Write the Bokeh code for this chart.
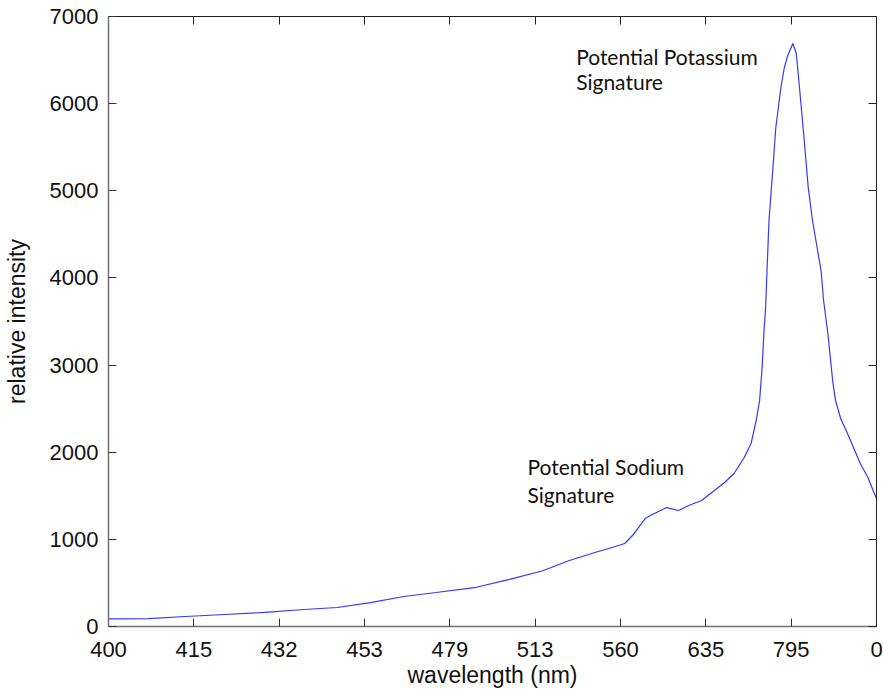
from bokeh.plotting import figure
from bokeh.models import LinearAxis, FixedTicker, Label, Range1d
from bokeh.embed import file_html
from bokeh.resources import INLINE

# sample index along the spectrometer (tick positions every 100 samples)
sample_idx = [0, 47, 90, 136, 183, 229, 268, 307, 346, 384, 431, 470, 509, 540,
              570, 590, 605, 614, 629, 635, 654, 668, 680, 695, 707, 722, 733,
              745, 753, 759, 763, 766, 768, 770, 774, 779, 782, 788, 792, 796,
              802, 806, 809, 815, 820, 825, 831, 835, 838, 843, 849, 852, 858,
              866, 873, 881, 890, 897, 900]
intensity = [88, 90, 115, 138, 161, 195, 218, 275, 344, 390, 450, 540, 640, 757,
             849, 907, 952, 1044, 1239, 1273, 1365, 1331, 1388, 1446, 1538, 1653,
             1756, 1939, 2100, 2364, 2593, 2972, 3362, 3650, 4659, 5313, 5726,
             6185, 6415, 6553, 6690, 6575, 6266, 5611, 5038, 4659, 4315, 4085,
             3741, 3362, 2789, 2593, 2387, 2215, 2054, 1870, 1710, 1538, 1469]

x_ticks = [0, 100, 200, 300, 400, 500, 600, 700, 800, 900]
x_tick_labels = ["400", "415", "432", "453", "479", "513", "560", "635", "795", "0"]
y_ticks = [0, 1000, 2000, 3000, 4000, 5000, 6000, 7000]

FONT = "Liberation Sans"

p = figure(width=883, height=692, output_backend="svg", toolbar_location=None,
           x_range=Range1d(0, 900), y_range=Range1d(0, 7000),
           min_border_left=103, min_border_right=7, min_border_top=16,
           min_border_bottom=66, x_axis_label="wavelength (nm)",
           y_axis_label="relative intensity")
p.grid.visible = False
p.outline_line_color = None
p.background_fill_color = "white"

p.line(sample_idx, intensity, line_color="#3636ff", line_width=1.2)

xa = p.xaxis[0]
xa.ticker = FixedTicker(ticks=x_ticks)
xa.major_label_overrides = {t: l for t, l in zip(x_ticks, x_tick_labels)}
ya = p.yaxis[0]
ya.ticker = FixedTicker(ticks=y_ticks)

for ax in (xa, ya):
    ax.major_tick_in = 8
    ax.major_tick_out = 0
    ax.minor_tick_in = 0
    ax.minor_tick_out = 0
    ax.axis_line_color = "#707070"
    ax.axis_line_width = 1.5
    ax.major_tick_line_color = "#333333"
    ax.major_label_text_font = FONT
    ax.major_label_text_font_size = "22px"
    ax.major_label_text_color = "#111111"
    ax.axis_label_text_font = FONT
    ax.axis_label_text_font_size = "23px"
    ax.axis_label_text_font_style = "normal"
    ax.axis_label_text_color = "#111111"

xa.major_label_standoff = 15
xa.axis_label_standoff = 2
ya.major_label_standoff = 10
ya.axis_label_standoff = 17

top = LinearAxis(ticker=FixedTicker(ticks=x_ticks), major_label_text_font_size="0px",
                 major_tick_in=8, major_tick_out=0, minor_tick_in=0, minor_tick_out=0,
                 axis_line_color="#222222", major_tick_line_color="#222222",
                 major_label_standoff=0)
right = LinearAxis(ticker=FixedTicker(ticks=y_ticks), major_label_text_font_size="0px",
                   major_tick_in=8, major_tick_out=0, minor_tick_in=0, minor_tick_out=0,
                   axis_line_color="#222222", major_tick_line_color="#222222",
                   major_label_standoff=0)
p.add_layout(top, "above")
p.add_layout(right, "right")

ANN_FONT = "Lato"
for txt, xx, yy in [("Potential Potassium", 548, 6541), ("Signature", 548, 6259),
                    ("Potential Sodium", 491, 1836), ("Signature", 491, 1515)]:
    p.add_layout(Label(x=xx, y=yy, text=txt, text_font=ANN_FONT,
                       text_font_size="21px", text_color="#111111",
                       text_baseline="alphabetic", text_align="left"))

open("out.html", "w").write(file_html(p, INLINE))
